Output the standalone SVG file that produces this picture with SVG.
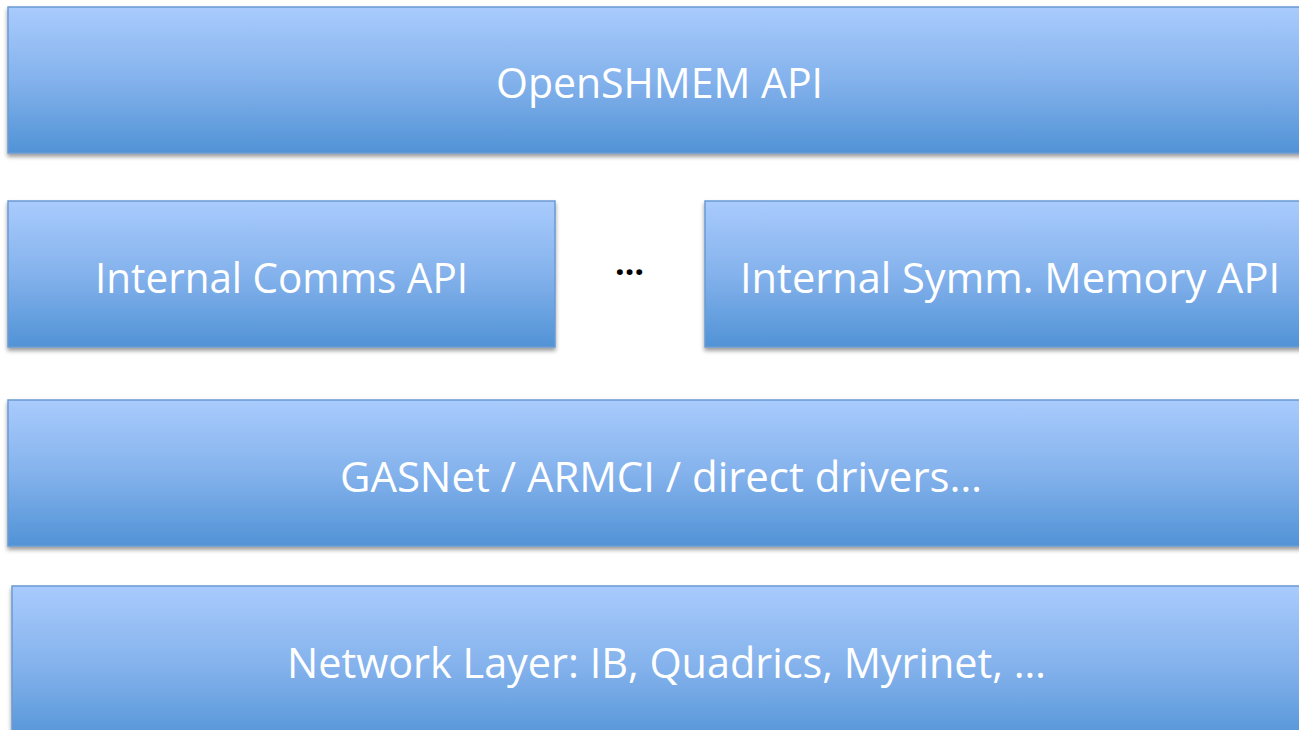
<svg xmlns="http://www.w3.org/2000/svg" width="1299" height="730" viewBox="0 0 1299 730">
  <defs>
    <linearGradient id="g" x1="0" y1="0" x2="0" y2="1">
      <stop offset="0" stop-color="#a9cbfd"/>
      <stop offset="0.5" stop-color="#84b2ec"/>
      <stop offset="1" stop-color="#5193d6"/>
    </linearGradient>
    <filter id="sh" x="-5%" y="-10%" width="110%" height="125%">
      <feDropShadow dx="0" dy="3" stdDeviation="2" flood-color="#000" flood-opacity="0.4"/>
    </filter>
  </defs>
  <style>
    .box { fill: url(#g); stroke: #6a9bd2; stroke-width: 1.5; filter: url(#sh); }
    .lbl { font-family: "Open Sans", "Liberation Sans", sans-serif; font-size: 42px; fill: #ffffff; }
    .dots { font-family: "Open Sans", "Liberation Sans", sans-serif; font-size: 34px; font-weight: bold; fill: #000000; }
  </style>
  <rect width="1299" height="730" fill="#ffffff"/>
  <g id="openshmem-api">
    <rect class="box" x="8" y="7" width="1310" height="146"/>
    <text class="lbl" x="496" y="98" textLength="327" lengthAdjust="spacingAndGlyphs">OpenSHMEM API</text>
  </g>
  <g id="internal-comms-api">
    <rect class="box" x="8" y="201" width="547" height="146"/>
    <text class="lbl" x="95" y="293" textLength="373" lengthAdjust="spacingAndGlyphs">Internal Comms API</text>
  </g>
  <g id="ellipsis">
    <text class="dots" x="629.5" y="275" text-anchor="middle">…</text>
  </g>
  <g id="internal-symm-memory-api">
    <rect class="box" x="705" y="201" width="610" height="146"/>
    <text class="lbl" x="740" y="293" textLength="540" lengthAdjust="spacingAndGlyphs">Internal Symm. Memory API</text>
  </g>
  <g id="gasnet-armci">
    <rect class="box" x="8" y="400" width="1310" height="146"/>
    <text class="lbl" x="340" y="492" textLength="642" lengthAdjust="spacingAndGlyphs">GASNet / ARMCI / direct drivers…</text>
  </g>
  <g id="network-layer">
    <rect class="box" x="12" y="586" width="1310" height="160"/>
    <text class="lbl" x="287" y="678" textLength="759" lengthAdjust="spacingAndGlyphs">Network Layer: IB, Quadrics, Myrinet, …</text>
  </g>
  <g id="connectors"/>
</svg>
